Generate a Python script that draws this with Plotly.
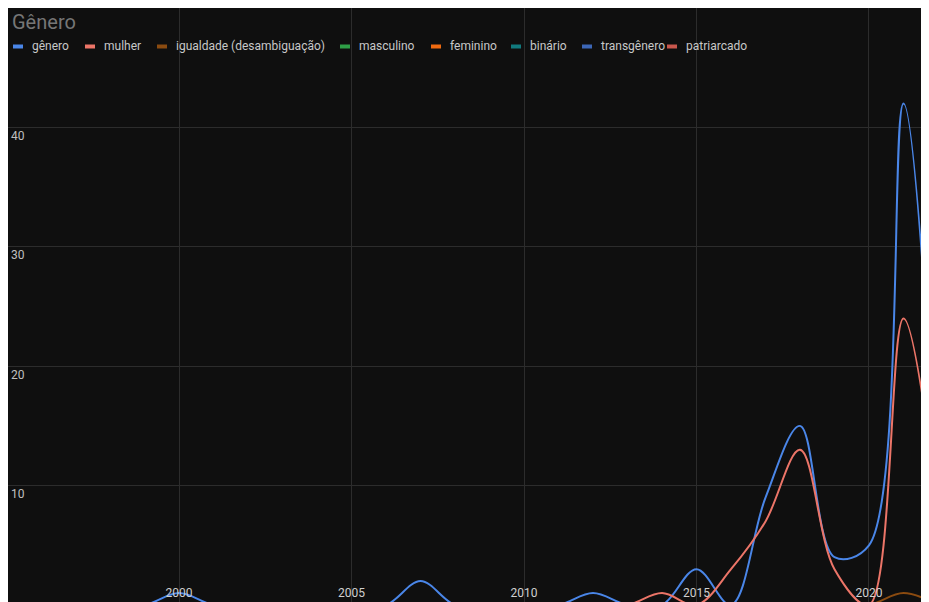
import plotly.graph_objects as go

# yearly counts, 1995-2022
anos = [1995, 1996, 1997, 1998, 1999, 2000, 2001, 2002, 2003, 2004, 2005, 2006, 2007, 2008,
        2009, 2010, 2011, 2012, 2013, 2014, 2015, 2016, 2017, 2018, 2019, 2020, 2021, 2022]

genero = [0, 0, 0, 0, 0, 1, 0, 0, 0, 0, 0, 0, 2, 0, 0, 0, 0, 1, 0, 0, 3, 0, 9, 15, 4, 5, 42, 8]
mulher = [0, 0, 0, 0, 0, 0, 0, 0, 0, 0, 0, 0, 0, 0, 0, 0, 0, 0, 0, 1, 0, 3, 7, 13, 3, 0, 24, 8]
igualdade = [0, 0, 0, 0, 0, 0, 0, 0, 0, 0, 0, 0, 0, 0, 0, 0, 0, 0, 0, 0, 0, 0, 0, 0, 0, 0, 1, 0]
masculino = [0, 0, 0, 0, 0, 0, 0, 0, 0, 0, 0, 0, 0, 0, 0, 0, 0, 0, 0, 0, 0, 0, 0, 0, 0, 0, 0, 0]
feminino = [0, 0, 0, 0, 0, 0, 0, 0, 0, 0, 0, 0, 0, 0, 0, 0, 0, 0, 0, 0, 0, 0, 0, 0, 0, 0, 0, 0]
binario = [0, 0, 0, 0, 0, 0, 0, 0, 0, 0, 0, 0, 0, 0, 0, 0, 0, 0, 0, 0, 0, 0, 0, 0, 0, 0, 0, 0]
transgenero = [0, 0, 0, 0, 0, 0, 0, 0, 0, 0, 0, 0, 0, 0, 0, 0, 0, 0, 0, 0, 0, 0, 0, 0, 0, 0, 0, 0]
patriarcado = [0, 0, 0, 0, 0, 0, 0, 0, 0, 0, 0, 0, 0, 0, 0, 0, 0, 0, 0, 0, 0, 0, 0, 0, 0, 0, 0, 0]

nomes = ['gênero', 'mulher', 'igualdade (desambiguação)', 'masculino', 'feminino',
         'binário', 'transgênero', 'patriarcado']
series = [genero, mulher, igualdade, masculino, feminino, binario, transgenero, patriarcado]
cores = ['#4a86e8', '#ec7568', '#8b4b10', '#2e9e46', '#f06a10', '#117a7e', '#3c66b6', '#c9574d']

BG = '#0f0f0f'
W, H = 921, 594
ML, MR, MT, MB = 0, 0, 0, 0
PW, PH = W - ML - MR, H - MT - MB

# legend x positions (start of text, in px of the figure)
legenda_x = [22, 94, 166, 349, 440, 520, 591, 676]
legenda_y = 38.5


def px_x(px):
    return (px - ML) / PW


def px_y(py):
    return 1 - (py - MT) / PH


fig = go.Figure()
for nome, vals, cor in zip(nomes, series, cores):
    fig.add_trace(go.Scatter(x=anos, y=vals, name=nome, mode='lines',
                             line=dict(color=cor, width=2, shape='spline'),
                             showlegend=False))

# legend drawn by hand: short thick swatch + label
shapes = []
annotations = []
for nome, cor, lx in zip(nomes, cores, legenda_x):
    shapes.append(dict(type='rect', xref='paper', yref='paper',
                       x0=px_x(lx - 17), x1=px_x(lx - 7),
                       y0=px_y(legenda_y + 2), y1=px_y(legenda_y - 2),
                       fillcolor=cor, line=dict(width=0)))
    annotations.append(dict(text=nome, xref='paper', yref='paper',
                            x=px_x(lx), y=px_y(legenda_y), xanchor='left', yanchor='middle',
                            showarrow=False, font=dict(size=12, color='#c8c8c8')))

fig.update_layout(
    width=W, height=H,
    margin=dict(l=ML, r=MR, t=MT, b=MB),
    plot_bgcolor=BG, paper_bgcolor=BG,
    font=dict(family='Roboto, Arial, sans-serif', color='#c8c8c8', size=12),
    title=dict(text='Gênero', x=4 / W, xref='container', xanchor='left',
               y=1 - 14 / H, yref='container', yanchor='middle',
               font=dict(size=20, color='#767676')),
    showlegend=False,
    shapes=shapes,
    annotations=annotations,
)
fig.update_xaxes(range=[1995.04, 2021.74], tick0=2000, dtick=5, ticklabelposition='inside',
                 showgrid=True, gridcolor='#2c2c2c', gridwidth=1, zeroline=False,
                 showline=False, tickfont=dict(size=12, color='#d0d0d0'))
fig.update_yaxes(range=[0.25, 50], tickvals=[10, 20, 30, 40], ticklabelposition='inside bottom',
                 showgrid=True, gridcolor='#2c2c2c', gridwidth=1, zeroline=False,
                 showline=False, tickfont=dict(size=12, color='#c0c0c0'))

fig.write_html('out.html')
